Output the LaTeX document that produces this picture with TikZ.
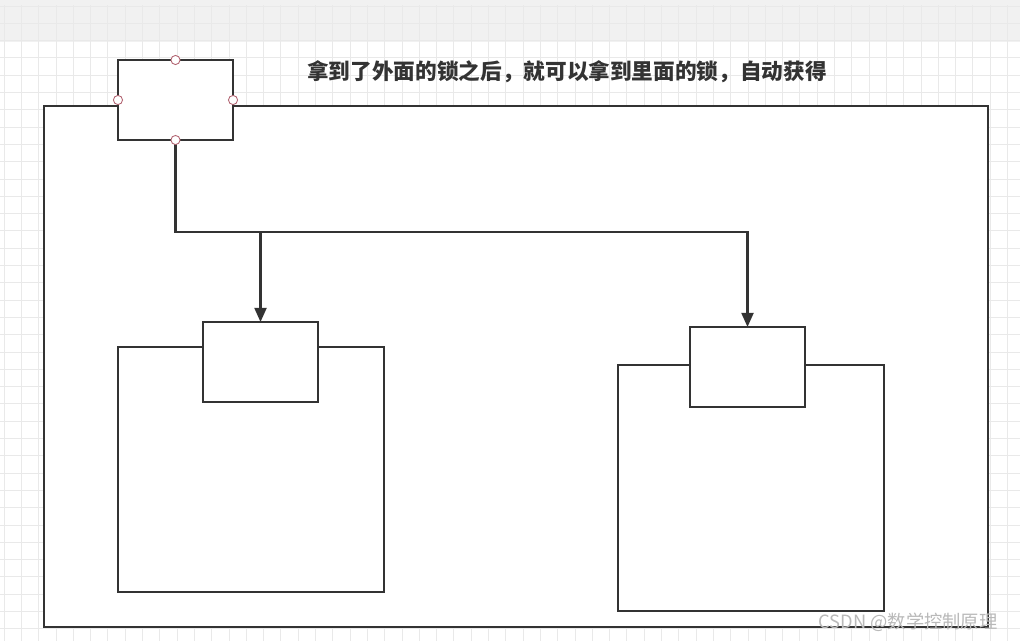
\documentclass[tikz,border=0pt]{standalone}
\usepackage{fontspec}
\newfontfamily\cjk{Noto Sans CJK SC}
\usetikzlibrary{arrows.meta,positioning}
\definecolor{lineGray}{HTML}{333333}
\definecolor{gridGray}{HTML}{E9E9E9}
\definecolor{barGray}{HTML}{F1F1F1}
\definecolor{portRed}{HTML}{B0606E}

\begin{document}
\begin{tikzpicture}[
      x=0.025cm, y=-0.025cm,
      every node/.style={inner sep=0pt, outer sep=0pt},
      frame/.style={draw=lineGray, line width=1.4pt, fill=white},
      lockbox/.style={frame, minimum width=2.875cm, minimum height=2cm},
      room/.style={frame, minimum width=6.65cm, minimum height=6.125cm},
      port/.style={circle, draw=portRed, fill=white, line width=0.6pt, minimum size=6.5pt},
      link/.style={-{Triangle[length=10pt,width=8.5pt]}, color=lineGray, line width=1.5pt}
  ]
    \useasboundingbox (0,0) rectangle (1020,641);
    % canvas
    \fill[white] (0,0) rectangle (1020,641);
    \fill[barGray] (0,0) rectangle (1020,42);
    \fill[gridGray!80!black!20] (0,0) rectangle (1020,5);
    \foreach \i in {0,...,58}
      \draw[gridGray, line width=0.5pt] (4+17.3*\i,5) -- (4+17.3*\i,641);
    \foreach \j in {0,...,36}
      \draw[gridGray, line width=0.5pt] (0,5.9+17.3*\j) -- (1020,5.9+17.3*\j);

    \node[frame, minimum width=23.6cm, minimum height=13.025cm] (house) at (516,366.5) {};
    \node[room] (roomL) at (251,469.5) {};
    \node[room] (roomR) at (751,488) {};
    \node[lockbox] (lockL) at (260.5,362) {};
    \node[lockbox] (lockR) at (747.5,367) {};
    \node[lockbox] (lockOut) at (175.5,100) {};

    \node[font=\cjk\bfseries\fontsize{15.4}{18}\selectfont, text=lineGray] (note) at (567,72)
      {拿到了外面的锁之后，就可以拿到里面的锁，自动获得};

    \draw[link] (lockOut.south) -- ++(0,92) -| (lockL.north);
    \draw[link] (lockOut.south) -- ++(0,92) -| (lockR.north);

    \foreach \side in {north,south,east,west}
      \node[port] at (lockOut.\side) {};

    \node[font=\cjk\fontsize{13}{15}\selectfont, text=gray!55] (mark) at (908,622) {CSDN @数学控制原理};
  \end{tikzpicture}
\end{document}
